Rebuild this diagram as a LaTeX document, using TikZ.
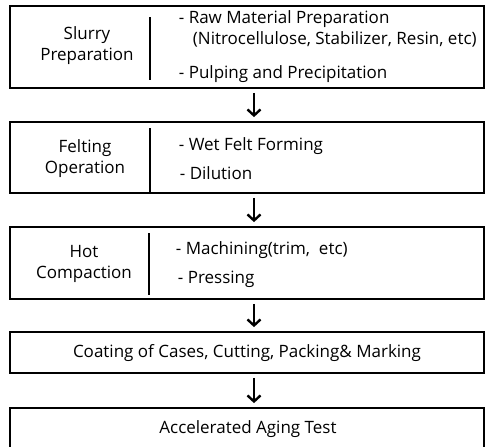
\documentclass[tikz,border=0pt]{standalone}
\usepackage{fontspec}
\setmainfont{Open Sans}
\usetikzlibrary{calc}
\usetikzlibrary{arrows.meta}
\begin{document}
\begin{tikzpicture}[x=1pt,y=-1pt,line width=1.8pt,
    stage/.style={draw,minimum width=474pt,inner sep=0pt},
    lbl/.style={font=\fontsize{17}{21}\selectfont,inner sep=0pt,align=center},
    item/.style={font=\fontsize{17}{21}\selectfont,inner sep=0pt,anchor=west},
    arr/.style={-{Straight Barb[length=6pt,width=13pt]},line width=2.4pt}]
    \clip (0,0) rectangle (485,447);
    % boxes
    \node[stage,minimum height=82pt] (slurry) at (247,47) {};
    \node[stage,minimum height=71pt] (felt) at (247,157.5) {};
    \node[stage,minimum height=72pt] (hot) at (247,263) {};
    \node[stage,minimum height=41pt] (coat) at (247,352.5) {};
    \node[stage,minimum height=50pt] (aging) at (247,433) {};
    % dividers
    \draw (150,17) -- (150,80);
    \draw (150,128) -- (150,193);
    \draw (149,233) -- (149,295);
    % texts
    \node[lbl] (slurrylbl) at (87,46) {Slurry\\Preparation};
    \node[lbl] (feltlbl) at (85,159) {Felting\\Operation};
    \node[lbl] (hotlbl) at (84,264) {Hot\\Compaction};
    \node[item] (raw) at (178,19) {- Raw Material Preparation};
    \node[item] (nitro) at (192,39) {(Nitrocellulose, Stabilizer, Resin, etc)};
    \node[item] (pulp) at (178,74) {- Pulping and Precipitation};
    \node[item] (wet) at (178,146) {- Wet Felt Forming};
    \node[item] (dil) at (179,173) {- Dilution};
    \node[item] (mach) at (175,250) {- Machining(trim,~~etc)};
    \node[item] (press) at (177,279) {- Pressing};
    \node[lbl] (coatlbl) at (247,353) {Coating of Cases, Cutting, Packing\&~Marking};
    \node[lbl] (aginglbl) at (248,429) {Accelerated Aging Test};
    % arrows
    \draw[arr] ($(slurry.south)+(7,4)$) -- ($(felt.north)+(7,-4)$);
    \draw[arr] ($(felt.south)+(7,4)$) -- ($(hot.north)+(7,-4)$);
    \draw[arr] ($(hot.south)+(7,4)$) -- ($(coat.north)+(7,-4)$);
    \draw[arr] ($(coat.south)+(7,4)$) -- ($(aging.north)+(7,-4)$);
\end{tikzpicture}
\end{document}
